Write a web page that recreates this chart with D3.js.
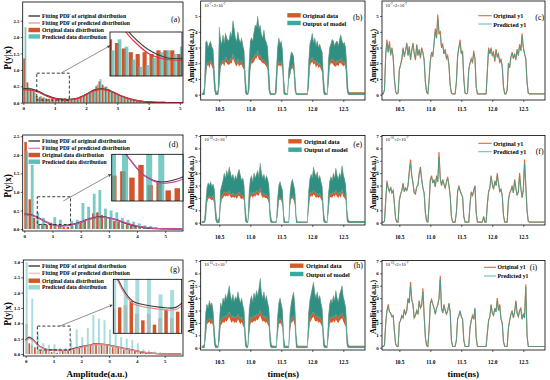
<!DOCTYPE html>
<html>
<head>
<meta charset="utf-8">
<script src="https://cdn.jsdelivr.net/npm/d3@7"></script>
<style>
  body { margin: 0; background: #fff; }
  svg { display: block; background: #fff; }
</style>
</head>
<body>
<div id="chart"></div>
<script>
// ---------- histogram data (left column) ----------
const histXTicks = [0, 1, 2, 3, 4, 5];
const histYTicksAD = [0, 0.5, 1, 1.5, 2, 2.5];
const histYTicksG = [0, 0.5, 1, 1.5, 2, 2.5, 3];

// (a) bins of 0.1
const aOriginal = [1.35, 0.62, 0.42, 0.35, 0.2, 0.18, 0.15, 0.13, 0.12, 0.13, 0.12, 0.14, 0.14, 0.14, 0.12, 0.12, 0.13, 0.15, 0.2, 0.22,
  0.28, 0.32, 0.38, 0.5, 0.65, 0.55, 0.48, 0.42, 0.35, 0.3, 0.25, 0.2, 0.16, 0.13, 0.1, 0.08, 0.06, 0.05, 0.04, 0.03,
  0.02, 0.02, 0.015, 0.01, 0.01, 0.005, 0.005, 0, 0, 0];
const aPredicted = [2.3, 0.48, 0.38, 0.3, 0.14, 0.2, 0.16, 0.09, 0.05, 0.06, 0.1, 0.13, 0.14, 0.12, 0.16, 0.11, 0.14, 0.16, 0.18, 0.25,
  0.3, 0.35, 0.42, 0.55, 0.72, 0.5, 0.5, 0.4, 0.33, 0.28, 0.22, 0.18, 0.15, 0.12, 0.09, 0.07, 0.05, 0.04, 0.03, 0.02,
  0.02, 0.01, 0.01, 0.01, 0.005, 0, 0, 0, 0, 0];
const aFitOriginal = [[0,0.43],[0.25,0.42],[0.5,0.34],[0.75,0.22],[1,0.14],[1.25,0.1],[1.5,0.1],[1.75,0.14],[2,0.25],[2.25,0.38],
  [2.5,0.43],[2.75,0.37],[3,0.26],[3.25,0.16],[3.5,0.09],[3.75,0.05],[4,0.025],[4.25,0.01],[4.5,0.005],[4.75,0],[5.1,0]];
const aFitPredicted = [[0,0.39],[0.25,0.38],[0.5,0.31],[0.75,0.2],[1,0.12],[1.25,0.09],[1.5,0.09],[1.75,0.13],[2,0.24],[2.25,0.36],
  [2.5,0.41],[2.75,0.36],[3,0.26],[3.25,0.16],[3.5,0.09],[3.75,0.05],[4,0.025],[4.25,0.01],[4.5,0.005],[4.75,0],[5.1,0]];

// (d) original bins of 0.15, predicted bins of 0.2
const dOriginal = [2.35, 0.8, 0.3, 0.12, 0.14, 0.11, 0.17, 0.075, 0.09, 0.05, 0.06, 0.075, 0.15, 0.2, 0.25, 0.3, 0.42, 0.45, 0.38, 0.3,
  0.28, 0.22, 0.2, 0.15, 0.12, 0.1, 0.08, 0.05, 0.04, 0.03, 0.02, 0.015, 0.01, 0.005, 0, 0, 0];
const dPredicted = [2.1, 1.73, 0.45, 0.3, 0, 0.32, 0.25, 0, 0.22, 0.25, 0.7, 0.6, 0.95, 1.05, 0.55, 0.5, 0.45, 0.3, 0.25, 0.2,
  0.15, 0.1, 0.08, 0.05, 0.03, 0.02, 0.01, 0];
const dFitOriginal = [[0,0.4],[0.25,0.38],[0.5,0.3],[0.75,0.2],[1,0.12],[1.25,0.09],[1.5,0.1],[1.75,0.13],[2,0.19],[2.25,0.26],[2.5,0.31],
  [2.75,0.33],[3,0.3],[3.25,0.25],[3.5,0.18],[3.75,0.12],[4,0.07],[4.25,0.04],[4.5,0.02],[4.75,0.01],[5,0.005],[5.25,0],[5.6,0]];
const dFitPredicted = [[0,0.38],[0.25,0.37],[0.5,0.3],[0.75,0.2],[1,0.12],[1.25,0.085],[1.5,0.09],[1.75,0.12],[2,0.18],[2.25,0.25],[2.5,0.3],
  [2.75,0.32],[3,0.3],[3.25,0.25],[3.5,0.19],[3.75,0.13],[4,0.08],[4.25,0.05],[4.5,0.025],[4.75,0.01],[5,0.005],[5.25,0],[5.6,0]];

// (g) original bins of 0.1, predicted bins of 0.2
const gOriginal = [0.98, 0.35, 0.3, 0.22, 0.11, 0.12, 0.13, 0.15, 0.09, 0.06, 0.09, 0.04, 0.07, 0.11, 0.07, 0.1, 0.12, 0.14, 0.16, 0.2,
  0.22, 0.25, 0.28, 0.3, 0.35, 0.32, 0.34, 0.3, 0.28, 0.3, 0.25, 0.22, 0.24, 0.2, 0.18, 0.15, 0.16, 0.13, 0.12, 0.1,
  0.09, 0.08, 0.07, 0.06, 0.05, 0.04, 0.04, 0.03, 0.02, 0.02, 0.015, 0.01, 0.01, 0.005, 0, 0];
const gPredicted = [3.0, 1.8, 0.7, 0.35, 0.3, 0.32, 0.18, 0.2, 0.45, 0.8, 0.55, 0.85, 1.27, 1.15, 1.1, 0.8, 0.75, 0.55, 0.5, 0.45,
  0.35, 0.15, 0.12, 0.08, 0.05, 0.03, 0.01, 0];
const gFitOriginal = [[0,0.45],[0.12,0.55],[0.25,0.48],[0.5,0.25],[0.75,0.15],[1,0.13],[1.25,0.12],[1.5,0.12],[1.75,0.18],[2,0.24],[2.25,0.28],
  [2.5,0.33],[2.75,0.32],[3,0.29],[3.25,0.24],[3.5,0.19],[3.75,0.15],[4,0.1],[4.25,0.05],[4.5,0.03],[4.75,0.015],[5,0.005],[5.25,0],[5.6,0]];
const gFitPredicted = [[0,0.42],[0.12,0.5],[0.25,0.45],[0.5,0.24],[0.75,0.14],[1,0.12],[1.25,0.11],[1.5,0.11],[1.75,0.16],[2,0.22],[2.25,0.27],
  [2.5,0.31],[2.75,0.31],[3,0.28],[3.25,0.23],[3.5,0.18],[3.75,0.14],[4,0.1],[4.25,0.06],[4.5,0.03],[4.75,0.015],[5,0.005],[5.25,0],[5.6,0]];

// ---------- time traces (middle and right columns), sampled every 0.02 ns from 10.22 ns ----------
const timeStart = 10.22, timeStep = 0.02;
const timeTicks = [10.5, 11.0, 11.5, 12.0, 12.5];
const ampTicksTop = [0, 1, 2, 3, 4, 5];
const ampTicks = [0, 1, 2, 3, 4, 5, 6, 7];

// (b) envelopes of the dense traces
const bModelHi = [0.08,0.08,0.5,3.3,3.4,3.0,3.2,3.4,3.0,2.9,1.5,0.3,0.08,0.3,
  4.3,3.5,3.2,3.8,3.3,3.9,3.6,3.4,3.5,4.0,3.7,4.7,4.2,3.6,3.4,4.0,3.5,3.3,3.6,3.1,2.8,1.2,0.2,0.05,
  2.0,3.4,3.6,3.4,4.0,4.4,4.3,5.0,4.2,4.4,3.8,3.6,4.1,3.5,3.3,3.0,1.5,0.2,0.05,0.05,0.05,0.05,
  1.5,3.0,3.6,3.2,3.4,2.8,1.0,0.1,0.05,0.05,
  1.6,2.2,2.7,2.6,2.4,1.2,0.1,
  0.05,0.05,0.05,0.05,0.05,0.05,0.05,0.05,0.05,
  2.0,3.2,3.5,3.9,3.3,3.6,3.1,3.4,3.0,3.2,2.9,2.7,1.2,0.2,0.05,0.05,
  2.2,3.0,3.2,3.5,3.4,3.1,3.3,3.4,3.1,3.5,3.8,3.4,3.2,3.3,2.9,1.5,0.2,
  0.1,0.1,0.1,0.1,0.1,0.1,0.1,0.1,0.1,0.1,0.1,0.1,0.1];
const bModelLo = [0,0,0,1.2,2.0,2.1,2.0,2.2,2.0,1.8,0.4,0,0,0,
  0.8,1.9,2.1,2.2,2.0,2.4,2.3,2.1,2.1,2.3,2.2,2.6,2.4,2.1,2.0,2.3,2.0,2.1,2.2,1.9,1.8,0.2,0,0,
  0.3,1.8,2.2,2.3,2.4,2.6,2.5,2.8,2.4,2.5,2.3,2.2,2.2,2.1,2.0,1.8,0.3,0,0,0,0,0,
  0.2,1.9,2.1,2.0,2.1,1.7,0.1,0,0,0,
  1.0,1.3,1.8,1.9,1.7,0.3,0,
  0,0,0,0,0,0,0,0,0,
  0.5,2.0,2.2,2.4,2.1,2.2,2.0,2.1,1.9,2.0,1.8,1.6,0.2,0,0,0,
  0.8,2.0,2.2,2.3,2.2,2.1,2.0,2.2,2.1,2.2,2.3,2.2,2.0,2.1,1.8,0.3,0,
  0,0,0,0,0,0,0,0,0,0,0,0,0];
const bOriginalLo = [0,0,0,0.9,1.8,1.9,1.7,2.0,1.8,1.6,0.3,0,0,0,
  0.5,1.7,1.9,2.0,1.8,2.1,2.0,1.9,1.9,2.0,2.0,2.3,2.1,1.9,1.8,2.0,1.8,1.9,1.9,1.7,1.6,0.1,0,0,
  0.2,1.6,2.0,2.0,2.1,2.3,2.3,2.5,2.2,2.2,2.1,2.0,2.0,1.9,1.8,1.6,0.2,0,0,0,0,0,
  0.1,1.7,1.9,1.8,1.9,1.5,0.05,0,0,0,
  0.9,1.2,1.6,1.7,1.5,0.2,0,
  0,0,0,0,0,0,0,0,0,
  0.4,1.8,2.0,2.1,1.9,2.0,1.7,1.9,1.7,1.8,1.6,1.4,0.1,0,0,0,
  0.6,1.8,2.0,2.0,1.9,1.8,1.8,1.9,1.8,2.0,2.0,1.9,1.8,1.9,1.6,0.2,0,
  0,0,0,0,0,0,0,0,0,0,0,0,0];

// (e)
const eModelHi = [0.08,0.08,0.1,1.5,2.8,3.2,3.0,3.3,2.9,3.1,2.7,1.2,0.3,0.05,
  0.5,2.6,3.0,3.4,4.0,3.6,4.2,3.8,4.5,4.0,3.6,3.9,3.4,3.8,3.5,4.0,4.3,3.8,3.4,3.6,3.0,1.2,0.2,0.05,
  2.5,3.5,3.8,3.3,4.0,3.6,3.9,4.2,3.7,4.8,4.0,3.6,3.9,3.4,3.8,3.5,3.0,1.0,0.2,0.05,0.05,0.05,0.05,
  2.0,3.0,3.3,2.9,2.6,0.6,0.05,0.05,0.05,0.05,
  2.4,3.2,3.5,3.0,2.6,0.5,0.05,0.05,0.05,0.05,0.05,0.05,0.05,0.05,0.05,
  2.5,3.5,3.9,3.6,4.5,4.0,3.7,4.1,3.5,3.8,3.3,2.9,1.0,0.2,0.05,0.05,
  2.3,3.3,3.7,3.4,4.0,3.6,4.4,3.8,3.5,4.0,3.7,4.6,3.9,3.5,3.0,1.0,0.2,
  0.08,0.08,0.08,0.08,0.08,0.08,0.08,0.08,0.08,0.08,0.08,0.08,0.08];
const eModelLo = [0,0,0,0.3,1.8,2.1,2.2,2.1,2.0,2.2,1.7,0.3,0,0,
  0,1.5,2.1,2.3,2.5,2.4,2.5,2.3,2.6,2.4,2.2,2.4,2.2,2.3,2.2,2.4,2.5,2.3,2.2,2.2,2.0,0.2,0,0,
  1.0,2.2,2.5,2.3,2.5,2.3,2.6,2.5,2.4,2.8,2.5,2.3,2.4,2.2,2.3,2.1,1.8,0.2,0,0,0,0,0,
  0.8,2.0,2.1,2.0,1.6,0,0,0,0,0,
  1.5,2.1,2.2,2.0,1.6,0,0,0,0,0,0,0,0,0,0,
  1.2,2.3,2.5,2.4,2.6,2.5,2.3,2.4,2.2,2.4,2.1,1.9,0.2,0,0,0,
  1.0,2.3,2.4,2.3,2.5,2.4,2.6,2.4,2.3,2.5,2.3,2.7,2.4,2.2,2.0,0.2,0,
  0,0,0,0,0,0,0,0,0,0,0,0,0];
const eOriginalLo = [0,0,0,0.2,1.6,1.9,2.0,1.9,1.8,1.9,1.5,0.2,0,0,
  0,1.3,1.9,2.0,2.2,2.1,2.2,2.1,2.3,2.1,2.0,2.1,2.0,2.1,1.9,2.1,2.2,2.0,1.9,2.0,1.8,0.1,0,0,
  0.8,2.0,2.2,2.0,2.2,2.1,2.3,2.2,2.2,2.5,2.2,2.0,2.1,2.0,2.0,1.9,1.6,0.1,0,0,0,0,0,
  0.6,1.8,1.9,1.8,1.4,0,0,0,0,0,
  1.3,1.9,2.0,1.8,1.4,0,0,0,0,0,0,0,0,0,0,
  1.0,2.0,2.2,2.1,2.3,2.2,2.0,2.1,2.0,2.1,1.9,1.7,0.1,0,0,0,
  0.8,2.0,2.1,2.0,2.2,2.1,2.3,2.1,2.0,2.2,2.0,2.4,2.1,2.0,1.8,0.1,0,
  0,0,0,0,0,0,0,0,0,0,0,0,0];

// (h)
const hModelHi = [0.1,0.1,0.3,2.8,3.5,3.2,3.8,3.4,3.6,3.0,1.5,0.3,0.1,0.1,
  2.0,3.6,3.3,4.0,3.7,4.3,3.9,4.4,5.0,4.2,3.8,4.3,3.7,4.1,3.9,4.5,4.0,3.6,4.0,3.4,3.0,1.2,0.2,0.1,
  3.0,3.8,4.2,3.7,4.4,4.0,4.6,4.2,4.8,5.6,4.4,4.0,4.5,3.8,4.2,3.6,3.2,1.2,0.2,0.1,0.1,0.1,0.1,
  2.5,3.6,4.0,3.5,3.0,0.8,0.1,0.1,0.1,0.1,
  2.8,3.6,4.1,4.5,3.3,1.0,0.1,0.1,0.1,0.1,0.1,0.1,0.1,0.1,0.1,
  2.8,3.8,4.3,4.8,5.3,4.4,4.0,4.5,3.9,4.2,3.6,3.1,1.2,0.2,0.1,0.1,
  2.5,3.5,3.9,3.6,4.2,3.8,4.6,4.0,3.7,4.3,4.6,5.0,4.1,3.7,3.2,1.2,0.2,
  0.1,0.1,0.1,0.1,0.1,0.1,0.1,0.1,0.1,0.1,0.1,0.1,0.1];
const hModelLo = [0,0,0,1.0,2.2,2.3,2.4,2.2,2.3,2.0,0.3,0,0,0,
  0.6,2.2,2.3,2.5,2.4,2.6,2.5,2.7,2.9,2.6,2.4,2.6,2.4,2.5,2.4,2.7,2.5,2.3,2.5,2.2,2.0,0.2,0,0,
  1.2,2.3,2.5,2.4,2.6,2.5,2.7,2.6,2.8,3.0,2.7,2.5,2.6,2.4,2.5,2.2,2.0,0.2,0,0,0,0,0,
  1.2,2.2,2.4,2.2,1.8,0,0,0,0,0,
  1.6,2.3,2.5,2.6,2.0,0.1,0,0,0,0,0,0,0,0,0,
  1.2,2.4,2.6,2.8,2.9,2.6,2.5,2.6,2.4,2.5,2.3,2.0,0.2,0,0,0,
  1.0,2.3,2.5,2.4,2.6,2.4,2.7,2.5,2.4,2.6,2.7,2.8,2.5,2.3,2.0,0.2,0,
  0,0,0,0,0,0,0,0,0,0,0,0,0];
const hOriginalLo = [0,0,0,0.8,1.9,2.0,2.1,1.9,2.0,1.8,0.2,0,0,0,
  0.5,1.8,1.9,2.1,2.0,2.2,2.1,2.3,2.5,2.2,2.0,2.2,2.0,2.1,2.0,2.3,2.1,1.9,2.1,1.8,1.6,0.1,0,0,
  1.0,1.9,2.1,2.0,2.2,2.1,2.3,2.2,2.4,2.6,2.3,2.1,2.2,2.0,2.1,1.9,1.7,0.1,0,0,0,0,0,
  1.0,1.9,2.0,1.9,1.5,0,0,0,0,0,
  1.3,2.0,2.1,2.2,1.7,0,0,0,0,0,0,0,0,0,0,
  1.0,2.0,2.2,2.4,2.5,2.2,2.1,2.2,2.0,2.1,1.9,1.7,0.1,0,0,0,
  0.8,1.9,2.1,2.0,2.2,2.0,2.3,2.1,2.0,2.2,2.3,2.4,2.1,1.9,1.7,0.1,0,
  0,0,0,0,0,0,0,0,0,0,0,0,0];

// (c)
const cOriginal = [0.05,0.05,0.3,2.6,3.5,2.7,3.4,2.5,3.0,2.4,1.0,0.2,0.05,0.1,
  1.6,1.9,2.3,3.0,2.4,2.8,3.3,2.5,3.1,2.2,2.8,3.3,2.6,2.2,3.2,2.5,2.9,2.3,3.0,2.7,2.2,0.8,0.15,0.05,
  1.0,2.2,2.7,2.4,3.3,4.2,3.6,5.1,3.9,4.0,3.0,3.2,2.6,2.9,2.3,2.5,1.9,0.6,0.1,0.05,0.05,0.05,
  0.8,2.5,3.0,3.5,2.6,2.8,1.0,0.1,0.05,0.1,
  1.6,2.0,2.3,2.0,2.8,2.3,0.5,0.05,0.05,0.05,0.05,0.05,0.05,0.05,0.05,
  1.5,3.0,2.6,3.0,2.5,2.7,2.1,2.9,2.4,2.6,2.0,2.3,1.8,0.5,0.05,0.05,0.3,
  2.0,1.7,2.4,2.7,2.3,2.6,2.2,2.9,2.5,3.2,2.8,3.9,3.0,2.6,2.3,0.8,0.1,
  0.05,0.05,0.05,0.05,0.05,0.05,0.05,0.05,0.05,0.05,0.05,0.05,0.05];
const cPredicted = [0.05,0.05,0.3,2.5,3.3,2.7,3.2,2.6,2.9,2.4,1.0,0.2,0.05,0.1,
  1.6,1.9,2.2,2.9,2.5,2.8,3.2,2.5,3.0,2.3,2.8,3.2,2.6,2.3,3.1,2.5,2.8,2.4,2.9,2.7,2.2,0.8,0.15,0.05,
  1.0,2.1,2.7,2.5,3.2,4.0,3.6,4.8,3.9,3.8,3.0,3.1,2.6,2.8,2.3,2.4,1.9,0.6,0.1,0.05,0.05,0.05,
  0.8,2.4,3.0,3.3,2.6,2.7,1.0,0.1,0.05,0.1,
  1.6,2.0,2.2,2.1,2.6,2.3,0.5,0.05,0.05,0.05,0.05,0.05,0.05,0.05,0.05,
  1.5,2.9,2.6,2.9,2.5,2.6,2.2,2.8,2.4,2.5,2.1,2.2,1.8,0.5,0.05,0.05,0.3,
  2.0,1.8,2.4,2.6,2.3,2.6,2.3,2.8,2.5,3.1,2.8,3.7,3.0,2.6,2.3,0.8,0.1,
  0.05,0.05,0.05,0.05,0.05,0.05,0.05,0.05,0.05,0.05,0.05,0.05,0.05];

// (f)
const fOriginal = [0.05,0.05,0.1,1.8,3.4,2.8,2.5,2.9,2.4,2.6,1.5,0.3,0.05,0.05,
  1.8,2.3,2.6,3.2,2.5,2.8,2.6,3.0,4.2,5.1,3.8,3.2,2.4,2.3,2.9,3.0,4.0,4.5,3.5,2.8,2.4,0.8,0.1,0.05,
  1.5,3.5,3.8,3.2,3.5,2.9,3.8,3.3,5.7,3.6,3.0,3.5,3.1,2.8,3.3,3.7,3.0,2.2,0.5,0.05,0.05,0.05,
  0.8,2.5,3.0,2.6,2.3,2.1,0.5,0.05,0.05,0.05,0.05,
  1.5,2.5,2.2,2.6,3.0,0.8,0.05,0.05,0.05,0.05,0.05,0.5,0.05,0.05,
  1.5,2.5,2.8,3.8,3.1,2.7,3.4,3.0,4.0,3.2,2.5,2.7,2.2,0.6,0.05,0.05,0.05,
  1.8,2.4,2.6,3.0,2.4,3.5,2.8,2.2,2.5,4.0,2.8,2.0,2.6,5.1,3.0,1.0,0.1,
  0.05,0.05,0.05,0.05,0.05,0.05,0.05,0.05,0.05,0.05,0.05,0.05,0.05];
const fPredicted = [0.05,0.05,0.1,1.8,3.2,2.8,2.5,2.8,2.4,2.6,1.5,0.3,0.05,0.05,
  1.8,2.3,2.6,3.1,2.5,2.8,2.6,3.0,4.0,4.8,3.8,3.2,2.4,2.4,2.9,3.0,3.9,4.3,3.5,2.8,2.4,0.8,0.1,0.05,
  1.5,3.4,3.7,3.2,3.4,2.9,3.7,3.3,5.3,3.6,3.0,3.4,3.1,2.8,3.3,3.6,3.0,2.2,0.5,0.05,0.05,0.05,
  0.8,2.5,2.9,2.6,2.3,2.1,0.5,0.05,0.05,0.05,0.05,
  1.5,2.4,2.2,2.6,2.9,0.8,0.05,0.05,0.05,0.05,0.05,0.5,0.05,0.05,
  1.5,2.5,2.8,3.7,3.1,2.7,3.3,3.0,3.8,3.2,2.5,2.7,2.2,0.6,0.05,0.05,0.05,
  1.8,2.4,2.6,2.9,2.4,3.4,2.8,2.2,2.5,3.8,2.8,2.1,2.6,4.8,3.0,1.0,0.1,
  0.05,0.05,0.05,0.05,0.05,0.05,0.05,0.05,0.05,0.05,0.05,0.05,0.05];

// (i)
const iOriginal = [0.1,0.1,0.2,2.0,3.0,3.5,2.9,2.8,2.5,2.6,1.3,0.3,0.1,0.1,
  2.0,2.2,2.6,2.4,3.1,2.7,3.0,4.0,3.6,5.3,3.9,3.5,2.4,2.6,3.0,2.7,3.8,3.2,3.4,4.8,2.6,0.8,0.15,0.1,
  1.5,3.6,3.9,3.5,3.2,2.7,3.2,3.5,4.0,5.8,3.2,2.8,3.5,3.0,2.7,3.0,3.6,2.9,0.6,0.1,0.1,0.1,
  0.6,2.3,2.6,3.0,2.5,2.3,0.6,0.1,0.1,0.1,0.1,
  1.6,2.2,2.6,2.3,3.2,0.8,0.1,0.1,0.1,0.1,0.1,0.1,0.1,0.1,
  1.2,2.2,2.5,3.5,2.8,2.6,3.2,2.9,4.0,3.0,3.5,2.3,2.0,0.5,0.1,0.1,0.1,
  1.6,2.2,2.7,3.0,2.4,2.9,3.8,2.8,2.5,3.0,3.2,2.3,2.7,2.4,5.1,1.0,0.1,
  0.1,0.1,0.1,0.1,0.1,0.1,0.1,0.1,0.1,0.1,0.1,0.1,0.1];
const iPredicted = [0.1,0.1,0.2,2.0,3.0,3.3,2.9,2.8,2.5,2.6,1.3,0.3,0.1,0.1,
  2.0,2.2,2.6,2.4,3.0,2.7,3.0,3.9,3.6,5.0,3.9,3.4,2.4,2.6,3.0,2.7,3.7,3.2,3.4,4.5,2.6,0.8,0.15,0.1,
  1.5,3.5,3.8,3.5,3.2,2.7,3.2,3.4,4.0,5.5,3.2,2.8,3.4,3.0,2.7,3.0,3.5,2.9,0.6,0.1,0.1,0.1,
  0.6,2.3,2.6,2.9,2.5,2.3,0.6,0.1,0.1,0.1,0.1,
  1.6,2.2,2.5,2.3,3.1,0.8,0.1,0.1,0.1,0.1,0.1,0.1,0.1,0.1,
  1.2,2.2,2.5,3.4,2.8,2.6,3.1,2.9,3.8,3.0,3.4,2.3,2.0,0.5,0.1,0.1,0.1,
  1.6,2.2,2.7,2.9,2.4,2.9,3.7,2.8,2.5,3.0,3.1,2.3,2.7,2.4,4.9,1.0,0.1,
  0.1,0.1,0.1,0.1,0.1,0.1,0.1,0.1,0.1,0.1,0.1,0.1,0.1];

// ---------- drawing ----------
const FONT = '"Liberation Serif","Times New Roman",serif';
const ORANGE = '#d4532b';

const svg = d3.select('#chart').append('svg')
  .attr('width', 550).attr('height', 380)
  .style('font-family', FONT).style('font-weight', 'bold');

const defs = svg.append('defs');
defs.append('marker').attr('id', 'arrow').attr('viewBox', '0 0 10 10')
  .attr('refX', 9).attr('refY', 5).attr('markerWidth', 5).attr('markerHeight', 5)
  .attr('orient', 'auto')
  .append('path').attr('d', 'M0,0 L10,5 L0,10 z').attr('fill', '#444');

let clipCount = 0;
function clipTo(f) {
  const id = 'clip' + (clipCount++);
  defs.append('clipPath').attr('id', id).append('rect')
    .attr('x', f.l).attr('y', f.t).attr('width', f.r - f.l).attr('height', f.b - f.t);
  return 'url(#' + id + ')';
}

function frame(g, f) {
  g.append('rect').attr('x', f.l).attr('y', f.t)
    .attr('width', f.r - f.l).attr('height', f.b - f.t)
    .attr('fill', 'none').attr('stroke', '#000').attr('stroke-width', 0.8);
}

function styleAxis(a, fs) {
  a.attr('font-family', FONT).attr('font-size', fs).attr('font-weight', 'bold');
  a.select('.domain').remove();
  a.selectAll('.tick line').attr('stroke', '#000').attr('stroke-width', 0.6);
  a.selectAll('.tick text').attr('fill', '#000');
}

function axes(g, f, x, y, o) {
  const ax = g.append('g').attr('transform', `translate(0,${f.b})`)
    .call(d3.axisBottom(x).tickValues(o.xt).tickSize(2).tickPadding(o.xp).tickFormat(o.xf));
  styleAxis(ax, o.xfs);
  const ay = g.append('g').attr('transform', `translate(${f.l},0)`)
    .call(d3.axisLeft(y).tickValues(o.yt).tickSize(2).tickPadding(1.2).tickFormat(o.yf));
  styleAxis(ay, o.yfs);
}

function vTitle(text, cx, cy, fs) {
  svg.append('text').attr('transform', `translate(${cx},${cy}) rotate(-90)`)
    .attr('text-anchor', 'middle').attr('dominant-baseline', 'central')
    .attr('font-size', fs).text(text);
}

function panelLabel(text, cx, cy) {
  svg.append('text').attr('x', cx).attr('y', cy).attr('text-anchor', 'middle')
    .attr('dominant-baseline', 'central').attr('font-size', 8).attr('font-weight', 'normal').text(text);
}

function bars(g, x, y, p) {
  g.append('g').selectAll('rect').data(p.orig).join('rect')
    .attr('x', (d, i) => x(i * p.ow))
    .attr('width', x(p.ow * 0.6) - x(0))
    .attr('y', d => y(d))
    .attr('height', d => Math.max(0, y(0) - y(d)))
    .attr('fill', ORANGE);
  g.append('g').selectAll('rect').data(p.pred).join('rect')
    .attr('x', (d, i) => x(i * p.tw + p.toff))
    .attr('width', x(p.tw * p.tfr) - x(0))
    .attr('y', d => y(d))
    .attr('height', d => Math.max(0, y(0) - y(d)))
    .attr('fill', p.tealColor).attr('fill-opacity', p.tealOp);
}

function curves(g, x, y, p, w) {
  const line = d3.line().x(d => x(d[0])).y(d => y(d[1])).curve(d3.curveCatmullRom);
  g.append('path').datum(p.fitO).attr('d', line).attr('fill', 'none')
    .attr('stroke', '#3a3a3a').attr('stroke-width', w);
  g.append('path').datum(p.fitP).attr('d', line).attr('fill', 'none')
    .attr('stroke', p.fitColor).attr('stroke-width', w);
}

function histPanel(p) {
  const f = p.f;
  const g = svg.append('g');
  const x = d3.scaleLinear().domain(p.xd).range([f.l, f.r]);
  const y = d3.scaleLinear().domain(p.yd).range([f.b, f.t]);
  const inner = g.append('g').attr('clip-path', clipTo(f));
  bars(inner, x, y, p);
  curves(inner, x, y, p, 1.3);
  frame(g, f);
  axes(g, f, x, y, { xt: histXTicks, xf: d3.format('d'), xp: 1.5, xfs: 5,
    yt: p.yt, yf: d3.format('.1f'), yfs: 4.8 });

  // dashed zoom box and arrow to the inset
  const z = p.zoom;
  g.append('rect').attr('x', x(z.x[0])).attr('y', y(z.y[1]))
    .attr('width', x(z.x[1]) - x(z.x[0])).attr('height', y(z.y[0]) - y(z.y[1]))
    .attr('fill', 'none').attr('stroke', '#222').attr('stroke-width', 0.9)
    .attr('stroke-dasharray', '3,2');
  g.append('line').attr('x1', p.arrow[0]).attr('y1', p.arrow[1])
    .attr('x2', p.arrow[2]).attr('y2', p.arrow[3])
    .attr('stroke', '#444').attr('stroke-width', 0.6).attr('marker-end', 'url(#arrow)');

  // inset
  const ib = p.inset;
  g.append('rect').attr('x', ib.l).attr('y', ib.t).attr('width', ib.r - ib.l)
    .attr('height', ib.b - ib.t).attr('fill', '#fff');
  const ix = d3.scaleLinear().domain(z.x).range([ib.l, ib.r]);
  const iy = d3.scaleLinear().domain(p.insetY).range([ib.b, ib.t]);
  const ig = g.append('g').attr('clip-path', clipTo(ib));
  bars(ig, ix, iy, p);
  curves(ig, ix, iy, p, 1.1);
  frame(g, ib);

  // legend
  const L = p.leg;
  const lg = g.append('g').attr('font-size', 5.6);
  const labels = ['Fitting PDF of original distribution', 'Fitting PDF of predicted distribution',
    'Original data distribution', 'Predicted data distribution'];
  lg.append('line').attr('x1', L.x).attr('x2', L.x + 11.5).attr('y1', L.ys[0]).attr('y2', L.ys[0])
    .attr('stroke', '#3a3a3a').attr('stroke-width', 1.4);
  lg.append('line').attr('x1', L.x).attr('x2', L.x + 11.5).attr('y1', L.ys[1]).attr('y2', L.ys[1])
    .attr('stroke', p.legFitColor).attr('stroke-width', 1.4);
  lg.append('rect').attr('x', L.x).attr('y', L.ys[2] - 2.2).attr('width', 11.5).attr('height', 4.4)
    .attr('fill', ORANGE);
  lg.append('rect').attr('x', L.x).attr('y', L.ys[3] - 2.2).attr('width', 11.5).attr('height', 4.4)
    .attr('fill', p.tealColor).attr('fill-opacity', Math.min(1, p.tealOp + 0.15));
  labels.forEach((t, i) => {
    lg.append('text').attr('x', L.x + 13.5).attr('y', L.ys[i]).attr('dominant-baseline', 'central').text(t);
  });
  panelLabel(p.label, p.labelPos[0], p.labelPos[1]);
  vTitle('P(y|x)', 7.5, p.titleY, 9.5);
}

function expLabel(g, x, y, e1) {
  const t = g.append('text').attr('x', x).attr('y', y).attr('font-size', 4.4).attr('font-weight', 'normal');
  t.append('tspan').text('10');
  t.append('tspan').attr('dy', -1.6).attr('font-size', 3.2).text(e1);
  t.append('tspan').attr('dy', 1.6).text('\u00d72\u00d710');
  t.append('tspan').attr('dy', -1.6).attr('font-size', 3.2).text('-7');
}

function tracePanel(p) {
  const f = p.f;
  const g = svg.append('g');
  const x = d3.scaleLinear().domain(p.xd).range([f.l, f.r]);
  const y = d3.scaleLinear().domain(p.yd).range([f.b, f.t]);
  const tx = (d, i) => x(timeStart + timeStep * i);
  const inner = g.append('g').attr('clip-path', clipTo(f));

  if (p.kind === 'band') {
    const areaO = d3.area().x(tx).y0((d, i) => y(p.oLo[i])).y1((d, i) => y(p.hi[i] + 0.05));
    const areaT = d3.area().x(tx).y0((d, i) => y(p.lo[i])).y1((d, i) => y(p.hi[i]));
    inner.append('path').datum(p.hi).attr('d', areaO).attr('fill', '#d65a2c');
    inner.append('path').datum(p.hi).attr('d', areaT).attr('fill', '#2f8f82')
      .attr('stroke', '#62bcb0').attr('stroke-width', 0.6).attr('stroke-opacity', 0.8);
  } else {
    const line = d3.line().x(tx).y(d => y(d));
    inner.append('path').datum(p.orig).attr('d', line).attr('fill', 'none')
      .attr('stroke', '#e4672f').attr('stroke-width', 1.1);
    inner.append('path').datum(p.pred).attr('d', line).attr('fill', 'none')
      .attr('stroke', '#2fa89e').attr('stroke-width', 0.8);
  }
  frame(g, f);
  axes(g, f, x, y, { xt: timeTicks, xf: d3.format('.1f'), xp: p.xp, xfs: 5.4,
    yt: p.yt, yf: d3.format('d'), yfs: 5 });
  expLabel(g, f.l + 3.5, p.expY, p.exp);

  const L = p.leg;
  const lg = g.append('g').attr('font-size', L.fs || 6.2);
  const names = p.kind === 'band' ? ['Original data', 'Output of model'] : ['Original y1', 'Predicted y1'];
  if (p.kind === 'band') {
    lg.append('rect').attr('x', L.x).attr('y', L.ys[0] - 2.2).attr('width', 13.4).attr('height', 4.4).attr('fill', '#d65a2c');
    lg.append('rect').attr('x', L.x).attr('y', L.ys[1] - 2.2).attr('width', 13.4).attr('height', 4.4).attr('fill', '#3aa89d');
  } else {
    lg.append('line').attr('x1', L.x).attr('x2', L.x + L.w).attr('y1', L.ys[0]).attr('y2', L.ys[0])
      .attr('stroke', '#e4672f').attr('stroke-width', 1.1);
    lg.append('line').attr('x1', L.x).attr('x2', L.x + L.w).attr('y1', L.ys[1]).attr('y2', L.ys[1])
      .attr('stroke', '#5cc4bb').attr('stroke-width', 1.1);
  }
  names.forEach((t, i) => {
    lg.append('text').attr('x', L.tx).attr('y', L.ys[i]).attr('dominant-baseline', 'central').text(t);
  });
  panelLabel(p.label, p.labelPos[0], p.labelPos[1]);
  vTitle('Amplitude(a.u.)', f.l - 9, p.titleY, 8);
}

// left column
histPanel({ f: { l: 22.7, r: 183, t: 2, b: 103 }, xd: [-0.02, 5.1], yd: [-0.01, 3.07], yt: histYTicksAD,
  orig: aOriginal, ow: 0.1, pred: aPredicted, tw: 0.1, toff: 0.04, tfr: 0.55,
  tealColor: '#4db8b2', tealOp: 0.75, fitO: aFitOriginal, fitP: aFitPredicted,
  fitColor: '#e0323c', legFitColor: '#f39a9a',
  zoom: { x: [0.43, 1.47], y: [0.08, 0.9] }, inset: { l: 110, r: 182, t: 32, b: 76 }, insetY: [0, 0.24],
  arrow: [60.7, 73.3, 110, 45.7], leg: { x: 28.5, ys: [16, 23, 30, 36.5] },
  label: '(a)', labelPos: [175.5, 19.3], titleY: 58 });

histPanel({ f: { l: 22.7, r: 183, t: 135, b: 231 }, xd: [-0.057, 5.63], yd: [-0.054, 2.535], yt: histYTicksAD,
  orig: dOriginal, ow: 0.15, pred: dPredicted, tw: 0.2, toff: 0.03, tfr: 0.5,
  tealColor: '#4db8b2', tealOp: 0.75, fitO: dFitOriginal, fitP: dFitPredicted,
  fitColor: '#d04aa8', legFitColor: '#ea7fcb',
  zoom: { x: [0.46, 1.64], y: [0.12, 0.87] }, inset: { l: 111.7, r: 183, t: 154.3, b: 201 }, insetY: [0, 0.22],
  arrow: [63.3, 201, 111, 174.3], leg: { x: 28.5, ys: [141, 148.3, 155, 161.7] },
  label: '(d)', labelPos: [173.5, 144.3], titleY: 186 });

histPanel({ f: { l: 23.3, r: 183, t: 260, b: 356 }, xd: [-0.086, 5.66], yd: [-0.065, 3.065], yt: histYTicksG,
  orig: gOriginal, ow: 0.1, pred: gPredicted, tw: 0.2, toff: 0.0, tfr: 0.35,
  tealColor: '#9ad6d8', tealOp: 0.85, fitO: gFitOriginal, fitP: gFitPredicted,
  fitColor: '#e98a8a', legFitColor: '#f6c0c0',
  zoom: { x: [0.42, 1.6], y: [0.13, 0.91] }, inset: { l: 113.3, r: 181.7, t: 279.3, b: 333.3 }, insetY: [0, 0.25],
  arrow: [60, 326, 112.3, 305], leg: { x: 28.5, ys: [266, 273.3, 280.7, 287.3] },
  label: '(g)', labelPos: [175, 269.3], titleY: 314 });

// middle column
tracePanel({ kind: 'band', f: { l: 200.7, r: 365, t: 1, b: 100 }, xd: [10.2, 12.85], yd: [-0.337, 5.96], yt: ampTicksTop,
  hi: bModelHi, lo: bModelLo, oLo: bOriginalLo, xp: 5.5, exp: '-7', expY: 6.5,
  leg: { x: 287.3, tx: 302.5, ys: [15.3, 23] }, label: '(b)', labelPos: [357.7, 17.3], titleY: 56 });
tracePanel({ kind: 'band', f: { l: 200.7, r: 365, t: 135.5, b: 225 }, xd: [10.2, 12.85], yd: [-0.186, 7.04], yt: ampTicks,
  hi: eModelHi, lo: eModelLo, oLo: eOriginalLo, xp: 8.5, exp: '-10', expY: 141,
  leg: { x: 288.3, tx: 304, ys: [141.3, 149.7] }, label: '(e)', labelPos: [357.7, 144.3], titleY: 183 });
tracePanel({ kind: 'band', f: { l: 200.7, r: 365, t: 260.5, b: 350 }, xd: [10.2, 12.85], yd: [-0.186, 7.04], yt: ampTicks,
  hi: hModelHi, lo: hModelLo, oLo: hOriginalLo, xp: 8.5, exp: '-13', expY: 266,
  leg: { x: 290, tx: 306, ys: [265.7, 274] }, label: '(h)', labelPos: [358.3, 265], titleY: 307 });

// right column
tracePanel({ kind: 'line', f: { l: 382, r: 545, t: 1, b: 100 }, xd: [10.22, 12.85], yd: [-0.337, 5.96], yt: ampTicksTop,
  orig: cOriginal, pred: cPredicted, xp: 5.5, exp: '-7', expY: 6.5,
  leg: { x: 478.3, w: 13.4, tx: 493.3, ys: [15.7, 24] }, label: '(c)', labelPos: [539.7, 17.3], titleY: 56 });
tracePanel({ kind: 'line', f: { l: 382, r: 545, t: 135.5, b: 225 }, xd: [10.22, 12.85], yd: [-0.186, 7.04], yt: ampTicks,
  orig: fOriginal, pred: fPredicted, xp: 8.5, exp: '-10', expY: 141,
  leg: { x: 478.3, w: 13.4, tx: 493.3, ys: [143.3, 151.7] }, label: '(f)', labelPos: [539.7, 151], titleY: 183 });
tracePanel({ kind: 'line', f: { l: 382, r: 545, t: 260.5, b: 350 }, xd: [10.22, 12.85], yd: [-0.186, 7.04], yt: ampTicks,
  orig: iOriginal, pred: iPredicted, xp: 8.5, exp: '-13', expY: 266,
  leg: { x: 484, w: 12, tx: 497.5, fs: 5.8, ys: [267.3, 276] }, label: '(i)', labelPos: [533.5, 267.3], titleY: 307 });

// bottom axis titles
svg.append('text').attr('x', 97).attr('y', 373.5).attr('text-anchor', 'middle')
  .attr('dominant-baseline', 'central').attr('font-size', 9).text('Amplitude(a.u.)');
svg.append('text').attr('x', 283.3).attr('y', 373.5).attr('text-anchor', 'middle')
  .attr('dominant-baseline', 'central').attr('font-size', 9).text('time(ns)');
svg.append('text').attr('x', 463.3).attr('y', 373.5).attr('text-anchor', 'middle')
  .attr('dominant-baseline', 'central').attr('font-size', 9).text('time(ns)');
</script>
</body>
</html>
